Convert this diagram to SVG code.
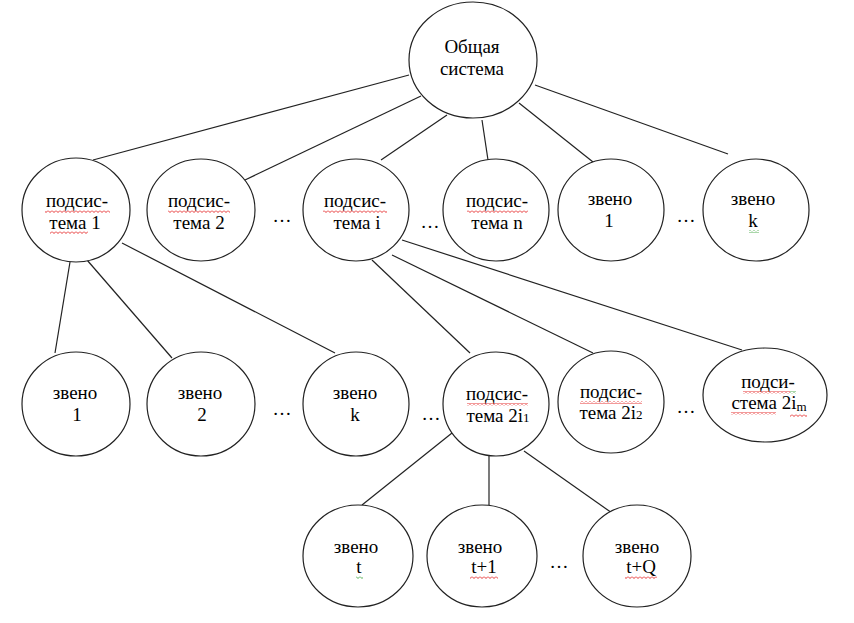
<svg xmlns="http://www.w3.org/2000/svg" width="854" height="623" viewBox="0 0 854 623">
<style>
.n{fill:#fff;stroke:#222;stroke-width:1.2}
.t{font-family:"Liberation Serif","Times New Roman",serif;font-size:19px;fill:#000;text-anchor:middle}
.c line{stroke:#222;stroke-width:1.2}
.w{fill:url(#red)}
.g{fill:url(#green)}
</style>
<defs>
<pattern id="red" width="4" height="3" patternUnits="userSpaceOnUse"><path d="M0,0.5 L2,2.5 L4,0.5" fill="none" stroke="#e00000" stroke-width="0.8"/></pattern>
<pattern id="green" width="4" height="3" patternUnits="userSpaceOnUse"><path d="M0,0.5 L2,2.5 L4,0.5" fill="none" stroke="#2a9a2a" stroke-width="0.8"/></pattern>
</defs>
<rect width="854" height="623" fill="#fff"/>
<g class="c" id="connectors">
<line x1="409" y1="75" x2="93" y2="160"/>
<line x1="421" y1="96" x2="245" y2="180"/>
<line x1="447" y1="115" x2="381" y2="160"/>
<line x1="482" y1="120" x2="488" y2="160"/>
<line x1="519" y1="103" x2="593" y2="162"/>
<line x1="535" y1="85" x2="728" y2="154"/>
<line x1="70" y1="262" x2="55" y2="353"/>
<line x1="87" y1="260" x2="172" y2="358"/>
<line x1="122" y1="243" x2="335" y2="353"/>
<line x1="372" y1="260" x2="470" y2="353"/>
<line x1="392" y1="255" x2="593" y2="353"/>
<line x1="402" y1="240" x2="742" y2="350"/>
<line x1="452" y1="433" x2="362" y2="505"/>
<line x1="489" y1="456" x2="489" y2="505"/>
<line x1="524" y1="451" x2="612" y2="513"/>
</g>
<g id="root"><ellipse class="n" cx="473" cy="60" rx="64" ry="58"/><text class="t" x="472" y="53">Общая</text><text class="t" x="472" y="75">система</text></g>
<g id="s1"><ellipse class="n" cx="76" cy="210" rx="54" ry="52"/><text class="t" x="77" y="207">подсис-</text><text class="t" x="75" y="229">тема 1</text><rect class="w" x="45" y="210" width="65" height="3"/><rect class="w" x="50" y="231" width="38" height="3"/></g>
<g id="s2"><ellipse class="n" cx="201" cy="210" rx="54" ry="51"/><text class="t" x="199" y="207">подсис-</text><text class="t" x="199" y="229">тема 2</text><rect class="w" x="168" y="210" width="62" height="3"/></g>
<g id="si"><ellipse class="n" cx="356" cy="210" rx="53" ry="51"/><text class="t" x="355" y="207">подсис-</text><text class="t" x="357" y="229">тема i</text><rect class="w" x="323" y="210" width="64" height="3"/></g>
<g id="sn"><ellipse class="n" cx="496" cy="210" rx="53" ry="51"/><text class="t" x="497" y="207">подсис-</text><text class="t" x="497" y="229">тема n</text><rect class="w" x="467" y="210" width="61" height="3"/></g>
<g id="z1"><ellipse class="n" cx="611" cy="210" rx="53" ry="51"/><text class="t" x="610" y="205">звено</text><text class="t" x="609" y="227">1</text></g>
<g id="zk"><ellipse class="n" cx="756" cy="210" rx="53" ry="51"/><text class="t" x="753" y="205">звено</text><text class="t" x="753" y="227">k</text><rect class="g" x="749" y="230" width="10" height="3"/></g>
<g id="dots1"><text class="t" x="282" y="222">…</text><text class="t" x="430" y="228">…</text><text class="t" x="686" y="222">…</text></g>
<g id="r1"><ellipse class="n" cx="76" cy="404" rx="54" ry="52"/><text class="t" x="75" y="399">звено</text><text class="t" x="77" y="421">1</text></g>
<g id="r2"><ellipse class="n" cx="201" cy="404" rx="54" ry="52"/><text class="t" x="200" y="399">звено</text><text class="t" x="202" y="421">2</text></g>
<g id="rk"><ellipse class="n" cx="356" cy="404" rx="53" ry="52"/><text class="t" x="355" y="399">звено</text><text class="t" x="355" y="421">k</text></g>
<g id="p1"><ellipse class="n" cx="496" cy="404" rx="53" ry="52"/><text class="t" x="497" y="400">подсис-</text><text class="t" x="498" y="422">тема 2i<tspan font-size="13">1</tspan></text><rect class="w" x="467" y="403" width="61" height="3"/></g>
<g id="p2"><ellipse class="n" cx="611" cy="402" rx="53" ry="51"/><text class="t" x="611" y="398">подсис-</text><text class="t" x="611" y="419">тема 2i<tspan font-size="13">2</tspan></text><rect class="w" x="580" y="401" width="62" height="3"/></g>
<g id="pm"><ellipse class="n" cx="765" cy="395" rx="62" ry="47"/><text class="t" x="768" y="388" font-size="18">подси-</text><text class="t" x="769" y="409" font-size="18">стема 2i<tspan font-size="13" dy="2">m</tspan></text><rect class="w" x="743" y="391" width="47" height="3"/><rect class="g" x="790" y="391" width="6" height="3"/><rect class="w" x="731" y="412" width="45" height="3"/><rect class="w" x="790" y="414" width="17" height="3"/></g>
<g id="dots2"><text class="t" x="282" y="415">…</text><text class="t" x="431" y="420">…</text><text class="t" x="686" y="413">…</text></g>
<g id="zt"><ellipse class="n" cx="358" cy="556" rx="55" ry="51"/><text class="t" x="356" y="553">звено</text><text class="t" x="359" y="573">t</text><rect class="g" x="356" y="576" width="7" height="3"/></g>
<g id="zt1"><ellipse class="n" cx="482" cy="556" rx="55" ry="51"/><text class="t" x="480" y="553">звено</text><text class="t" x="484" y="573">t+1</text><rect class="w" x="470" y="576" width="28" height="3"/></g>
<g id="ztq"><ellipse class="n" cx="637" cy="556" rx="54" ry="51"/><text class="t" x="637" y="553">звено</text><text class="t" x="641" y="573">t+Q</text><rect class="w" x="625" y="576" width="32" height="3"/></g>
<g id="dots3"><text class="t" x="559" y="568">…</text></g>
</svg>
